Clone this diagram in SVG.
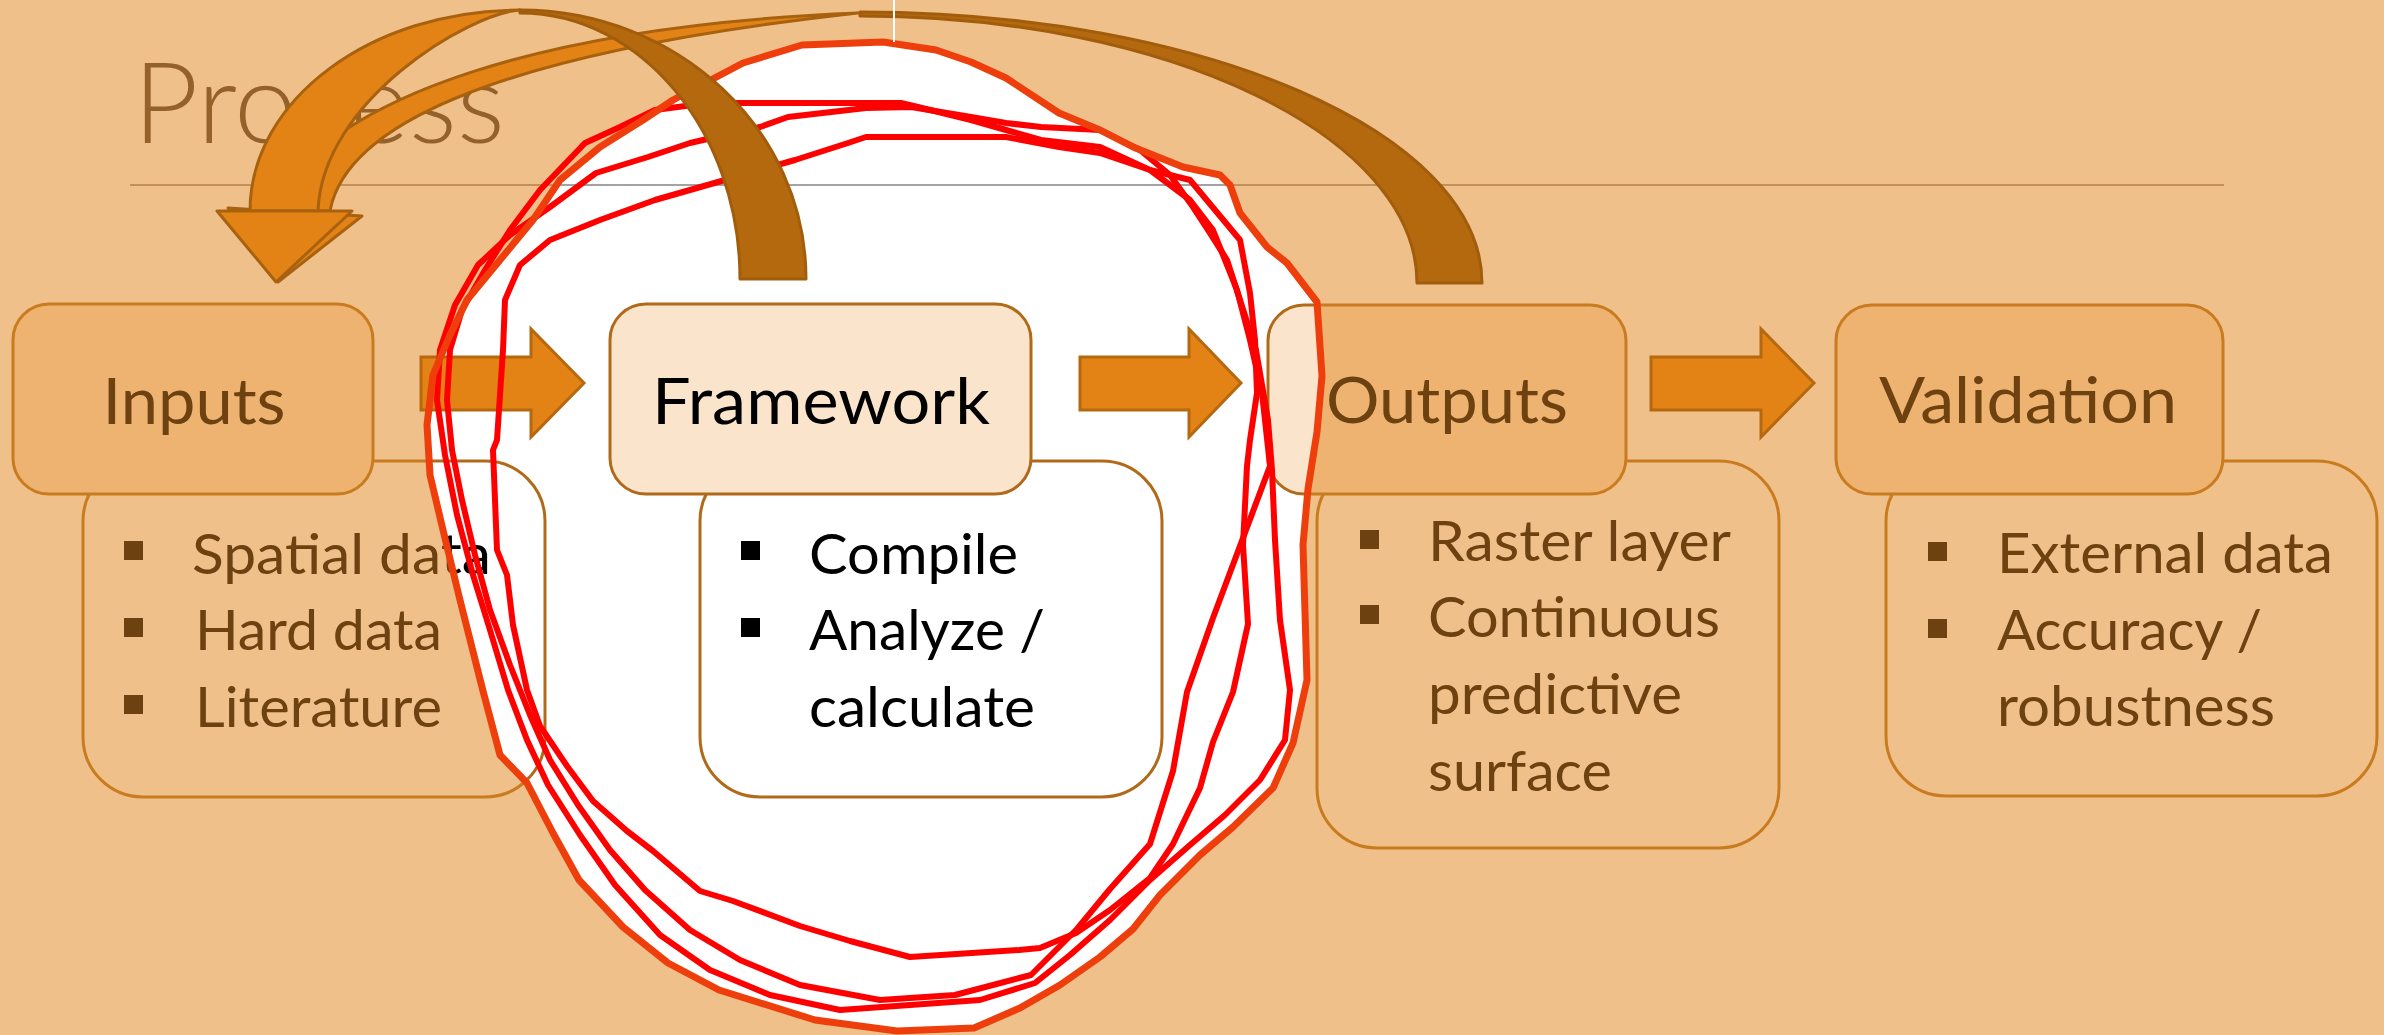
<svg xmlns="http://www.w3.org/2000/svg" xmlns:xlink="http://www.w3.org/1999/xlink" width="2384" height="1035" viewBox="0 0 2384 1035">
  <defs>
    <style>
      .hdr{fill:var(--hdr,#EEB370);stroke:var(--edge,#C97B1F);stroke-width:3}
      .box{fill:var(--box,#F0C08A);stroke:var(--edge,#C97B1F);stroke-width:3}
      .ink{fill:var(--ink,#6E4210)}
      .h{font-family:Lato,"Open Sans","Liberation Sans",sans-serif;font-size:64px;text-anchor:middle}
      .b{font-family:Lato,"Open Sans","Liberation Sans",sans-serif;font-size:57px}
      .lit{--hdr:#FAE5CC;--box:#FFFFFF;--ink:#000000;--edge:#B06A1A;--rule:#A3A3A3}
      .rule{stroke:var(--rule,#C29159);stroke-width:2;fill:none}
      .blk{fill:#E38215;stroke:#B5680F;stroke-width:3;stroke-linejoin:miter}
      .fr{fill:#E38215;stroke:#A8620F;stroke-width:3;stroke-linejoin:round}
      .bk{fill:#B5690E;stroke:#A25D0C;stroke-width:3;stroke-linejoin:round}
      .scr{fill:none;stroke:#FF0000;stroke-width:6;stroke-linejoin:round;stroke-linecap:round}
      .scr-out{fill:none;stroke:#EE3E0C;stroke-width:7;stroke-linejoin:round}
    </style>
    <!-- highlighted patch drawn over the middle of the slide -->
    <polygon id="blob-shape" points="600,147 643,120 673,100 743,63 802,45 883,42 936,50 971,62 1006,78 1059,113 1100,130 1133,147 1183,167 1220,175 1230,185 1240,213 1267,247 1287,263 1317,302 1322,376 1317,432 1308,489 1303,545 1307,680 1293,743 1273,788 1233,827 1200,855 1160,895 1133,929 1100,957 1060,985 1020,1008 974,1028 897,1031 815,1020 719,990 668,963 623,927 579,880 553,833 527,783 500,755 483,691 460,600 443,530 430,475 427,425 433,375 450,335 467,300 500,260 533,220 560,180"/>
    <clipPath id="blob-clip"><use xlink:href="#blob-shape"/></clipPath>
  </defs>

  <!-- slide background -->
  <rect x="0" y="0" width="2384" height="1035" fill="#F0C08A"/>

  <!-- title and rule -->
  <text x="133" y="143" textLength="372" lengthAdjust="spacingAndGlyphs" font-family="Lato, 'Open Sans', 'Liberation Sans', sans-serif" font-weight="300" font-size="112" fill="#95612A">Process</text>
  <line id="rule" class="rule" x1="130" y1="185" x2="2224" y2="185"/>

  <!-- nodes -->
  <g id="node-inputs">
    <rect class="box" x="83" y="461" width="462" height="336" rx="60"/>
    <rect class="hdr" x="13" y="304" width="360" height="190" rx="36"/>
    <text class="h ink" x="194" y="424" textLength="183" lengthAdjust="spacingAndGlyphs">Inputs</text>
    <rect class="ink" x="124" y="541" width="19" height="19"/>
    <rect class="ink" x="124" y="618" width="19" height="19"/>
    <rect class="ink" x="124" y="695" width="19" height="19"/>
    <text class="b ink" x="192" y="574" textLength="299" lengthAdjust="spacingAndGlyphs">Spatial data</text>
    <text class="b ink" x="195" y="650" textLength="247" lengthAdjust="spacingAndGlyphs">Hard data</text>
    <text class="b ink" x="195" y="727" textLength="247" lengthAdjust="spacingAndGlyphs">Literature</text>
  </g>

  <g id="node-outputs">
    <rect class="box" x="1317" y="461" width="462" height="387" rx="60"/>
    <rect class="hdr" x="1268" y="305" width="358" height="189" rx="36"/>
    <text class="h ink" x="1447" y="423" textLength="242" lengthAdjust="spacingAndGlyphs">Outputs</text>
    <rect class="ink" x="1360" y="530" width="19" height="19"/>
    <rect class="ink" x="1360" y="605" width="19" height="19"/>
    <text class="b ink" x="1428" y="561" textLength="303" lengthAdjust="spacingAndGlyphs">Raster layer</text>
    <text class="b ink" x="1428" y="637" textLength="292" lengthAdjust="spacingAndGlyphs">Continuous</text>
    <text class="b ink" x="1428" y="714" textLength="254" lengthAdjust="spacingAndGlyphs">predictive</text>
    <text class="b ink" x="1428" y="791" textLength="184" lengthAdjust="spacingAndGlyphs">surface</text>
  </g>

  <g id="node-validation">
    <rect class="box" x="1886" y="461" width="491" height="335" rx="60"/>
    <rect class="hdr" x="1836" y="305" width="387" height="189" rx="36"/>
    <text class="h ink" x="2028" y="423" textLength="298" lengthAdjust="spacingAndGlyphs">Validation</text>
    <rect class="ink" x="1928" y="542" width="19" height="19"/>
    <rect class="ink" x="1928" y="619" width="19" height="19"/>
    <text class="b ink" x="1997" y="573" textLength="336" lengthAdjust="spacingAndGlyphs">External data</text>
    <text class="b ink" x="1997" y="650" textLength="265" lengthAdjust="spacingAndGlyphs">Accuracy /</text>
    <text class="b ink" x="1997" y="726" textLength="278" lengthAdjust="spacingAndGlyphs">robustness</text>
  </g>

  <!-- white highlight patch: the slide shows through in its light colours -->
  <g id="highlight" class="lit" clip-path="url(#blob-clip)">
    <rect x="0" y="0" width="2384" height="1035" fill="#FFFFFF"/>
    <use xlink:href="#rule"/>
    <use xlink:href="#node-inputs"/>
    <use xlink:href="#node-outputs"/>
  </g>

  <g id="node-framework" class="lit">
    <rect class="box" x="700" y="461" width="462" height="336" rx="60"/>
    <rect class="hdr" x="610" y="304" width="421" height="190" rx="36"/>
    <text class="h ink" x="821" y="424" textLength="338" lengthAdjust="spacingAndGlyphs">Framework</text>
    <rect class="ink" x="741" y="541" width="19" height="19"/>
    <rect class="ink" x="741" y="618" width="19" height="19"/>
    <text class="b ink" x="809" y="574" textLength="209" lengthAdjust="spacingAndGlyphs">Compile</text>
    <text class="b ink" x="809" y="650" textLength="236" lengthAdjust="spacingAndGlyphs">Analyze /</text>
    <text class="b ink" x="809" y="727" textLength="226" lengthAdjust="spacingAndGlyphs">calculate</text>
  </g>

  <!-- connectors -->
  <g id="connectors">
    <polygon id="arrow-inputs-framework" class="blk" points="421,357 531,357 531,329 584,383 531,437 531,410 421,410"/>
    <polygon id="arrow-framework-outputs" class="blk" points="1080,357 1189,357 1189,329 1241,383 1189,437 1189,410 1080,410"/>
    <polygon id="arrow-outputs-validation" class="blk" points="1651,357 1761,357 1761,329 1814,383 1761,437 1761,410 1651,410"/>
  </g>

  <!-- hand-drawn red loops around the framework -->
  <g id="scribble">
    <polyline class="scr" points="550,207 596,173 648,157 690,143 760,127 788,117 866,108 911,107 971,117 1006,123 1041,127 1100,130 1140,150 1170,175 1193,207 1210,233 1227,260 1240,300 1256,350 1268,420 1272,470 1275,540 1280,620 1290,690 1285,740 1260,780 1225,815 1190,845 1150,880 1110,920 1070,955 1035,983 980,1000 910,1005 840,1010 770,995 710,970 660,935 615,885 580,835 548,785 527,740 508,690 490,630 473,575 457,515 445,455 437,400 440,350 455,305 478,265 510,235 550,207"/>
    <polyline class="scr" points="540,190 585,143 620,127 655,110 708,103 760,103 830,103 901,103 918,107 971,120 1006,130 1041,140 1100,147 1150,170 1190,200 1213,230 1237,290 1250,340 1262,393 1270,466 1213,618 1187,692 1173,771 1150,844 1110,889 1077,929 1031,975 955,995 880,1000 800,985 740,960 690,930 645,890 610,850 578,805 550,760 530,715 510,665 490,610 475,555 462,500 452,450 447,400 450,350 462,310 485,270 510,230 540,190"/>
    <polyline class="scr" points="503,350 505,300 520,265 550,240 600,220 655,200 725,180 795,160 848,143 866,137 1006,137 1059,147 1100,153 1150,170 1190,180 1215,210 1240,240 1250,293 1255,340 1257,393 1250,440 1247,466 1243,545 1248,624 1233,692 1213,742 1200,788 1173,844 1150,878 1110,910 1076,933 1040,948 1019,950 910,957 850,941 800,926 733,901 700,891 653,851 627,831 593,801 567,766 540,726 527,690 513,625 507,575 497,550 493,450 497,440 503,350"/>
    <use xlink:href="#blob-shape" class="scr-out"/>
  </g>

  <!-- curved return arrows -->
  <g id="return-outputs-inputs">
    <path class="bk" d="M860,12 C1203,12 1482,133 1482,283 L1417,283 C1417,136 1168,16 860,16 Z"/>
    <path class="fr" d="M330,211 C345,130 480,55 858,13 C560,25 330,90 268,211 Z"/>
    <polygon class="fr" points="228,208 362,216 278,282"/>
  </g>
  <g id="return-framework-inputs">
    <path class="fr" d="M250,211 C250,100 371,10 520,10 C470,13 322,100 318,211 Z"/>
    <polygon class="fr" points="217,211 352,211 276,282"/>
    <path class="bk" d="M520,10 C678,10 806,130 806,279 L740,279 C740,132 641,13 520,13 Z"/>
  </g>

  <line x1="894" y1="0" x2="894" y2="42" stroke="#FFFFFF" stroke-width="2"/>
</svg>
